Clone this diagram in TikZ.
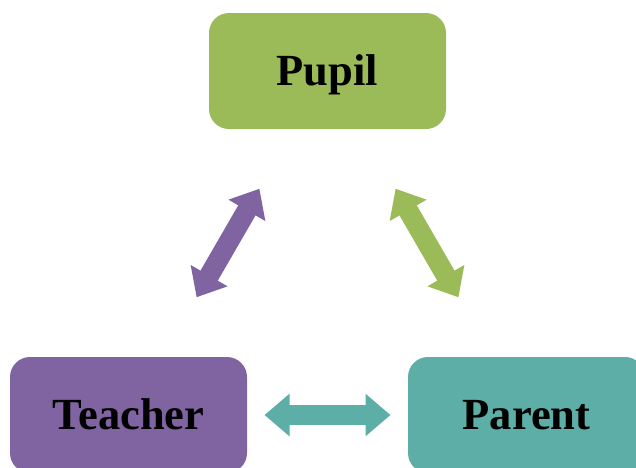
\documentclass[tikz,border=0pt]{standalone}
\usepackage{fontspec}
\setmainfont{Liberation Serif}
\usetikzlibrary{arrows.meta}
\definecolor{pupilgreen}{RGB}{155,187,89}
\definecolor{teacherpurple}{RGB}{128,100,162}
\definecolor{parentteal}{RGB}{92,174,166}
\begin{document}
\begin{tikzpicture}[x=1pt, y=-1pt,
  role/.style={rounded corners=20pt, minimum width=237pt, minimum height=116pt, inner sep=0pt,
    text height=29pt, text depth=0pt, font=\bfseries\fontsize{44.5}{50}\selectfont},
  link/.style={line width=20pt, shorten <=136pt, shorten >=136pt,
    {Triangle[length=25pt,width=41pt]}-{Triangle[length=25pt,width=41pt]}}]
\useasboundingbox (0,0) rectangle (636,467);
\node[role, fill=pupilgreen] (pupil) at (327.5,71) {Pupil};
\node[role, fill=teacherpurple] (teacher) at (128.5,415) {Teacher};
\node[role, fill=parentteal] (parent) at (526.5,415) {Parent};

\path
(pupil.center) edge[link, teacherpurple] (teacher.center)
               edge[link, pupilgreen] (parent.center)
(teacher.center) edge[link, parentteal] (parent.center)
;
\end{tikzpicture}
\end{document}
